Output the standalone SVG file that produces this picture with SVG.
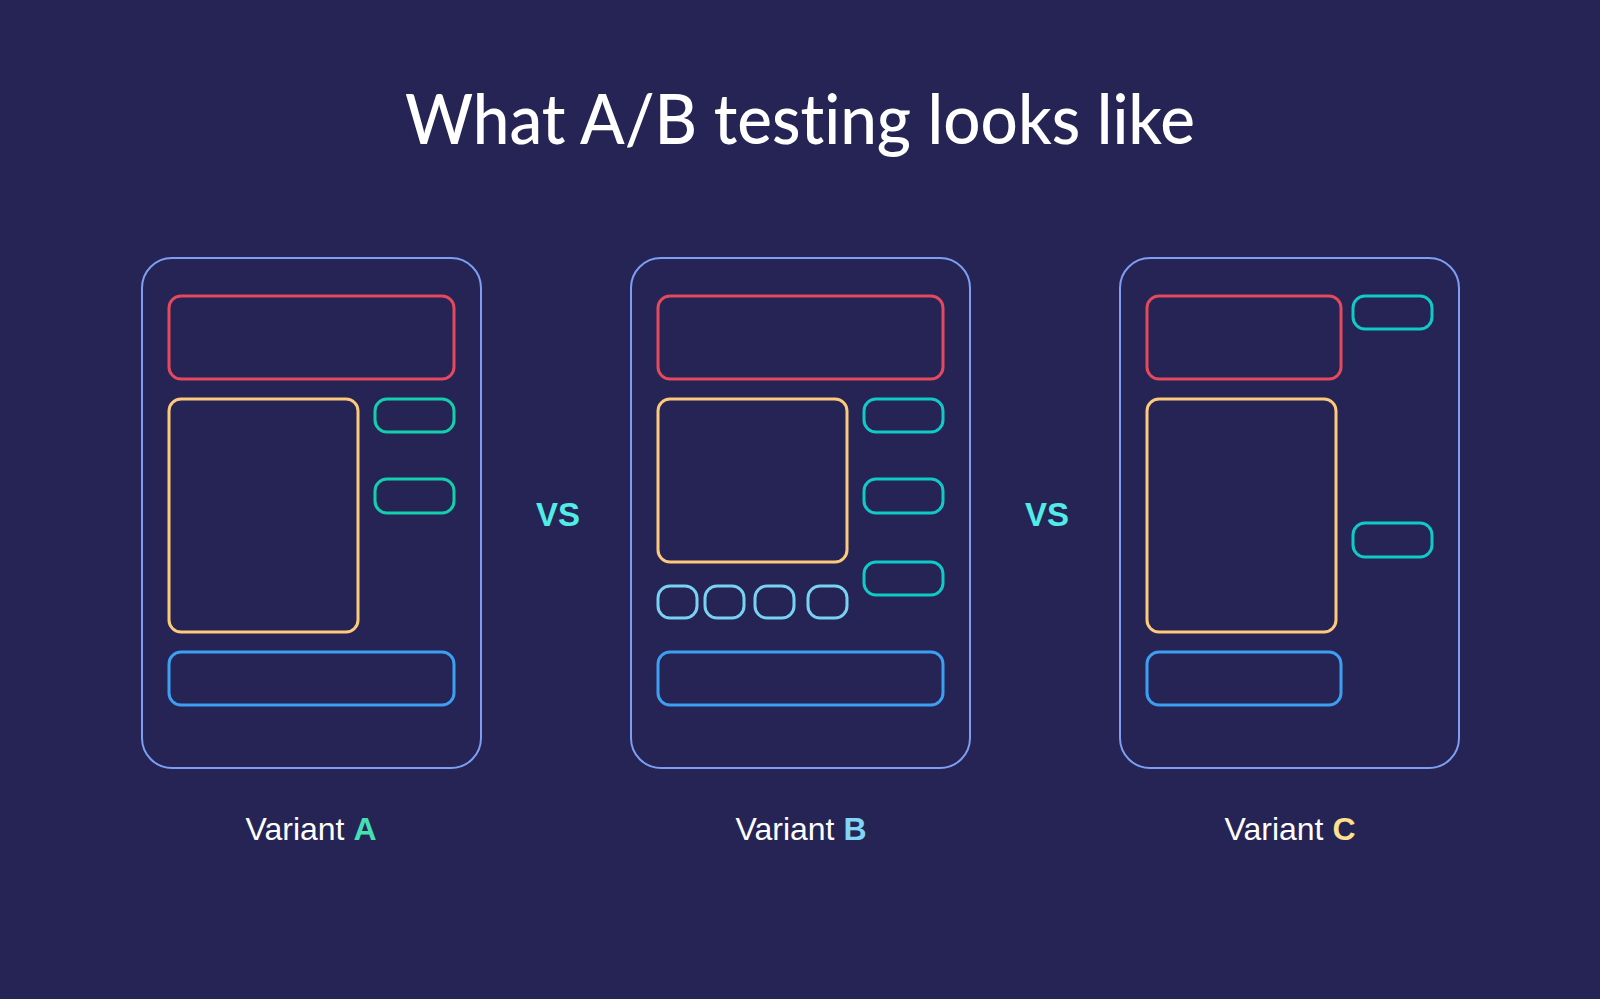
<svg xmlns="http://www.w3.org/2000/svg" width="1600" height="999" viewBox="0 0 1600 999">
<style>
.frame{fill:none;stroke:#7d9ef2;stroke-width:2}
.el{fill:none;stroke-width:3}
.red{stroke:#e4495d}
.yel{stroke:#fdc97a}
.tealA{stroke:#14cfae}
.teal{stroke:#0fcac6}
.lb{stroke:#79d2f2}
.blue{stroke:#3d9ff2}
.title{font-family:"Lato","Open Sans",sans-serif;font-weight:500;font-size:70px;fill:#ffffff;font-variant-ligatures:none;font-feature-settings:"liga" 0}
.vs{font-family:"Liberation Sans",Arial,sans-serif;font-weight:bold;font-size:33px;fill:#52ece6}
.lab{font-family:"Liberation Sans",Arial,sans-serif;font-size:32px;fill:#ffffff}
.b{font-weight:bold}
</style>
<rect width="1600" height="999" fill="#252455"/>
<text class="title" x="800" y="144" text-anchor="middle" textLength="790" lengthAdjust="spacingAndGlyphs">What A/B testing looks like</text>

<g id="variantA">
<rect class="frame" x="142" y="258" width="339" height="510" rx="30"/>
<rect class="el red" x="169" y="296" width="285" height="83" rx="12"/>
<rect class="el yel" x="169" y="399" width="189" height="233" rx="12"/>
<rect class="el tealA" x="375" y="399" width="79" height="33" rx="12"/>
<rect class="el tealA" x="375" y="479" width="79" height="34" rx="12"/>
<rect class="el blue" x="169" y="652" width="285" height="53" rx="12"/>
<text class="lab" x="311" y="840" text-anchor="middle">Variant <tspan class="b" fill="#45dfb4">A</tspan></text>
</g>

<g id="vs1"><text class="vs" x="558" y="526" text-anchor="middle">VS</text></g>

<g id="variantB">
<rect class="frame" x="631" y="258" width="339" height="510" rx="30"/>
<rect class="el red" x="658" y="296" width="285" height="83" rx="12"/>
<rect class="el yel" x="658" y="399" width="189" height="163" rx="12"/>
<rect class="el teal" x="864" y="399" width="79" height="33" rx="12"/>
<rect class="el teal" x="864" y="479" width="79" height="34" rx="12"/>
<rect class="el teal" x="864" y="562" width="79" height="33" rx="12"/>
<rect class="el lb" x="658" y="586" width="39" height="32" rx="12"/>
<rect class="el lb" x="705" y="586" width="39" height="32" rx="12"/>
<rect class="el lb" x="755" y="586" width="39" height="32" rx="12"/>
<rect class="el lb" x="808" y="586" width="39" height="32" rx="12"/>
<rect class="el blue" x="658" y="652" width="285" height="53" rx="12"/>
<text class="lab" x="801" y="840" text-anchor="middle">Variant <tspan class="b" fill="#7fd6f6">B</tspan></text>
</g>

<g id="vs2"><text class="vs" x="1047" y="526" text-anchor="middle">VS</text></g>

<g id="variantC">
<rect class="frame" x="1120" y="258" width="339" height="510" rx="30"/>
<rect class="el red" x="1147" y="296" width="194" height="83" rx="12"/>
<rect class="el teal" x="1353" y="296" width="79" height="33" rx="12"/>
<rect class="el yel" x="1147" y="399" width="189" height="233" rx="12"/>
<rect class="el teal" x="1353" y="523" width="79" height="34" rx="12"/>
<rect class="el blue" x="1147" y="652" width="194" height="53" rx="12"/>
<text class="lab" x="1290" y="840" text-anchor="middle">Variant <tspan class="b" fill="#ffe08e">C</tspan></text>
</g>
</svg>
